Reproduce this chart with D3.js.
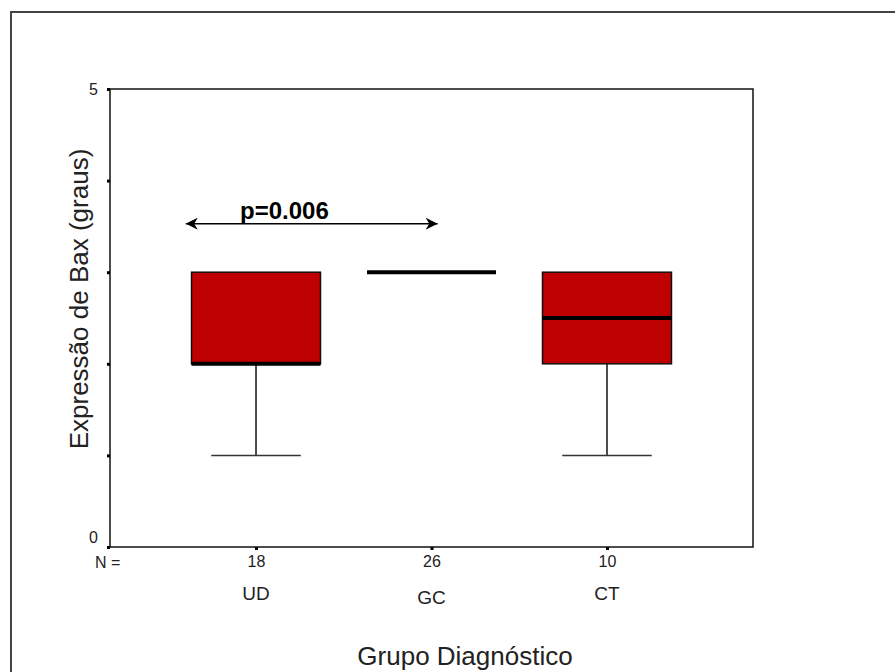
<!DOCTYPE html>
<html>
<head>
<meta charset="utf-8">
<script src="https://cdn.jsdelivr.net/npm/d3@7"></script>
<style>
  html, body { margin: 0; padding: 0; background: #fff; }
  svg { display: block; font-family: "Liberation Sans", Arial, sans-serif; }
</style>
</head>
<body>
<svg id="chart" width="895" height="672"></svg>
<script>
// Bax expression (graus) by diagnostic group
const groups = ["UD", "GC", "CT"];
const counts = [18, 26, 10];
const lowWhisker = [1, 3, 1];
const q1 = [2, 3, 2];
const median = [2, 3, 2.5];
const q3 = [3, 3, 3];
const highWhisker = [3, 3, 3];
const yTicks = [0, 1, 2, 3, 4, 5];
const yTickLabels = ["0", "", "", "", "", "5"];
const pLabel = "p=0.006";
const pY = 3.53;
const pFrom = "UD", pTo = "GC";

const svg = d3.select("#chart");
const plot = { left: 110, top: 89, right: 753, bottom: 547 };

const x = d3.scalePoint().domain(groups).range([plot.left, plot.right]).padding(0.832);
const y = d3.scaleLinear().domain([0, 5]).range([plot.bottom, plot.top]);
const step = x.step();
const boxW = step * 0.735;
const capW = step * 0.51;

// outer frame
svg.append("path")
  .attr("d", `M11,672 V12 H895`)
  .attr("fill", "none").attr("stroke", "#444").attr("stroke-width", 2);

// plot border
svg.append("rect")
  .attr("x", plot.left).attr("y", plot.top)
  .attr("width", plot.right - plot.left).attr("height", plot.bottom - plot.top)
  .attr("fill", "none").attr("stroke", "#111").attr("stroke-width", 1.5);

// y axis ticks; the bottom label sits just above the axis corner
const yAxis = d3.axisLeft(y).tickValues(yTicks).tickSize(3).tickPadding(9)
  .tickFormat((d, i) => yTickLabels[i]);
const gy = svg.append("g").attr("transform", `translate(${plot.left},0)`).call(yAxis);
gy.select(".domain").remove();
gy.selectAll(".tick line").attr("stroke", "#000").attr("stroke-width", 3);
gy.selectAll(".tick text").attr("font-size", 16).attr("fill", "#222")
  .attr("y", d => d === 0 ? -10 : 0);

// x axis ticks with N counts
const xAxis = d3.axisBottom(x).tickSize(3).tickPadding(6)
  .tickFormat((d, i) => counts[i]);
const gx = svg.append("g").attr("transform", `translate(0,${plot.bottom})`).call(xAxis);
gx.select(".domain").remove();
gx.selectAll(".tick line").attr("stroke", "#000").attr("stroke-width", 3);
gx.selectAll(".tick text").attr("font-size", 16).attr("fill", "#222");

svg.append("text").attr("x", 95).attr("y", 568).attr("font-size", 16).attr("fill", "#222").text("N =");

// category labels
const catY = { UD: 600, GC: 604, CT: 600 };
svg.append("g").selectAll("text").data(groups).join("text")
  .attr("x", d => x(d)).attr("y", d => catY[d])
  .attr("text-anchor", "middle").attr("font-size", 19).attr("fill", "#222")
  .text(d => d);

// axis titles
svg.append("text").attr("x", 465).attr("y", 665).attr("text-anchor", "middle")
  .attr("font-size", 26).attr("fill", "#222").text("Grupo Diagnóstico");
svg.append("text").attr("transform", "translate(88,299) rotate(-90)").attr("text-anchor", "middle")
  .attr("font-size", 26).attr("fill", "#222").text("Expressão de Bax (graus)");

// boxes
const data = groups.map((g, i) => ({ g, lo: lowWhisker[i], q1: q1[i], med: median[i], q3: q3[i], hi: highWhisker[i] }));
const bx = svg.append("g").selectAll("g").data(data).join("g");

// whiskers
bx.filter(d => d.lo < d.q1).append("line")
  .attr("x1", d => x(d.g)).attr("x2", d => x(d.g))
  .attr("y1", d => y(d.q1)).attr("y2", d => y(d.lo))
  .attr("stroke", "#111").attr("stroke-width", 1.5);
bx.filter(d => d.lo < d.q1).append("line")
  .attr("x1", d => x(d.g) - capW / 2).attr("x2", d => x(d.g) + capW / 2)
  .attr("y1", d => y(d.lo)).attr("y2", d => y(d.lo))
  .attr("stroke", "#333").attr("stroke-width", 1.5);
bx.filter(d => d.hi > d.q3).append("line")
  .attr("x1", d => x(d.g)).attr("x2", d => x(d.g))
  .attr("y1", d => y(d.q3)).attr("y2", d => y(d.hi))
  .attr("stroke", "#111").attr("stroke-width", 1.5);

// box body
bx.filter(d => d.q3 > d.q1).append("rect")
  .attr("x", d => x(d.g) - boxW / 2).attr("width", boxW)
  .attr("y", d => y(d.q3)).attr("height", d => y(d.q1) - y(d.q3))
  .attr("fill", "#BE0000").attr("stroke", "#111").attr("stroke-width", 1.5);

// median
bx.append("line")
  .attr("x1", d => x(d.g) - boxW / 2).attr("x2", d => x(d.g) + boxW / 2)
  .attr("y1", d => y(d.med)).attr("y2", d => y(d.med))
  .attr("stroke", "#000").attr("stroke-width", 4);

// significance arrow
svg.append("defs").append("marker")
  .attr("id", "arrow").attr("viewBox", "0 0 10 10").attr("refX", 10).attr("refY", 5)
  .attr("markerWidth", 12).attr("markerHeight", 12).attr("markerUnits", "userSpaceOnUse")
  .attr("orient", "auto-start-reverse")
  .append("path").attr("d", "M0,0 L10,5 L0,10 L3,5 Z").attr("fill", "#000");

const ax1 = x(pFrom) - step * 0.4;
const ax2 = x(pTo) + step * 0.035;
svg.append("line")
  .attr("x1", ax1).attr("x2", ax2).attr("y1", y(pY)).attr("y2", y(pY))
  .attr("stroke", "#000").attr("stroke-width", 1.5)
  .attr("marker-start", "url(#arrow)").attr("marker-end", "url(#arrow)");
svg.append("text").attr("x", 240).attr("y", y(pY) - 5)
  .attr("font-size", 24).attr("font-weight", "bold").attr("fill", "#000").text(pLabel);
</script>
</body>
</html>
